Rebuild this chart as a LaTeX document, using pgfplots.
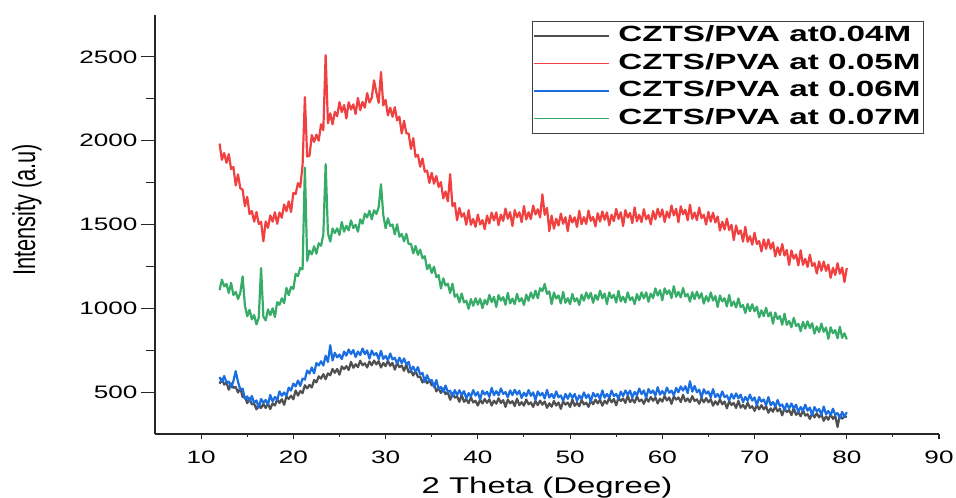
\documentclass[border=0pt]{standalone}
\usepackage{fontspec}
\setmainfont{Liberation Sans}
\newfontfamily\tickfont[FakeStretch=1.45]{Liberation Sans}
\newfontfamily\legfont[FakeStretch=1.51]{Liberation Sans}
\newfontfamily\ylabfont[FakeStretch=0.69]{Liberation Sans}
\usepackage{pgfplots}
\usepackage{pgfplotstable}
\pgfplotsset{compat=1.18}
\definecolor{cblack}{RGB}{80,80,80}
\definecolor{cred}{RGB}{240,64,64}
\definecolor{cblue}{RGB}{26,110,225}
\definecolor{cgreen}{RGB}{55,172,104}
\pgfplotstableread{
x a b c d
12.00 550 1983 590 1108
12.25 578 1886 560 1171
12.50 545 1927 596 1131
12.75 558 1868 557 1145
13.00 514 1920 563 1091
13.25 552 1831 528 1152
13.50 525 1843 565 1079
13.75 531 1733 625 1098
14.00 497 1799 561 1055
14.25 525 1716 515 1092
14.50 470 1707 520 1190
14.75 471 1609 460 1016
15.00 434 1665 474 952
15.25 463 1562 445 991
15.50 427 1581 477 934
15.75 430 1517 436 960
16.00 397 1574 450 904
16.25 430 1503 406 945
16.50 405 1516 459 1240
16.75 430 1400 436 950
17.00 405 1518 453 928
17.25 431 1480 426 994
17.50 399 1554 483 959
17.75 433 1517 444 1000
18.00 420 1573 471 948
18.25 458 1504 454 1037
18.50 435 1572 504 1021
18.75 458 1540 478 1060
19.00 424 1620 498 1031
19.25 474 1579 477 1122
19.50 459 1638 527 1079
19.75 479 1575 509 1128
20.00 457 1689 551 1115
20.25 510 1682 534 1206
20.50 479 1747 569 1192
20.75 506 1723 537 1242
21.00 494 1855 581 1232
21.25 541 2260 575 1840
21.50 522 1906 629 1283
21.75 543 1909 611 1344
22.00 527 2034 647 1322
22.25 572 1993 612 1370
22.50 558 2036 673 1326
22.75 594 2000 659 1388
23.00 580 2098 684 1373
23.25 607 2063 659 1440
23.50 577 2510 717 1860
23.75 612 2104 680 1449
24.00 600 2163 780 1398
24.25 638 2098 689 1476
24.50 615 2172 735 1449
24.75 638 2146 707 1477
25.00 604 2230 724 1438
25.25 653 2171 697 1515
25.50 637 2213 742 1457
25.75 655 2133 718 1492
26.00 632 2229 754 1465
26.25 680 2186 727 1525
26.50 645 2217 751 1479
26.75 666 2159 709 1498
27.00 649 2255 742 1457
27.25 687 2182 721 1530
27.50 660 2231 760 1505
27.75 672 2197 727 1565
28.00 647 2284 748 1542
28.25 683 2228 700 1582
28.50 660 2256 748 1531
28.75 688 2360 721 1585
29.00 665 2288 733 1563
29.25 685 2226 697 1603
29.50 647 2410 746 1740
29.75 674 2211 698 1556
30.00 655 2243 716 1478
30.25 687 2151 690 1537
30.50 657 2197 730 1491
30.75 674 2143 695 1500
31.00 634 2200 705 1441
31.25 674 2121 669 1501
31.50 649 2143 706 1427
31.75 659 2043 673 1444
32.00 627 2119 701 1400
32.25 664 2044 665 1444
32.50 617 2042 680 1383
32.75 627 1951 628 1385
33.00 599 2015 652 1328
33.25 627 1904 620 1372
33.50 590 1916 649 1319
33.75 592 1845 605 1350
34.00 557 1894 615 1298
34.25 584 1815 560 1311
34.50 552 1821 601 1233
34.75 572 1748 567 1261
35.00 540 1808 572 1211
35.25 551 1743 530 1249
35.50 504 1789 572 1186
35.75 523 1724 519 1198
36.00 495 1753 531 1118
36.25 522 1656 502 1179
36.50 487 1697 539 1136
36.75 499 1638 501 1147
37.00 454 1800 508 1091
37.25 493 1609 474 1147
37.50 467 1628 512 1069
37.75 475 1525 482 1083
38.00 442 1599 511 1035
38.25 484 1546 483 1088
38.50 442 1567 506 1035
38.75 457 1499 462 1045
39.00 434 1585 494 997
39.25 469 1498 473 1055
39.50 438 1533 512 1015
39.75 448 1486 479 1060
40.00 420 1559 500 1022
40.25 455 1500 456 1057
40.50 432 1526 508 1001
40.75 459 1472 486 1050
41.00 436 1553 502 1023
41.25 457 1506 471 1080
41.50 420 1571 525 1037
41.75 449 1524 482 1068
42.00 431 1572 506 1008
42.25 463 1496 481 1079
42.50 435 1559 522 1046
42.75 452 1521 489 1067
43.00 412 1595 500 1021
43.25 455 1534 469 1092
43.50 433 1574 510 1029
43.75 446 1491 482 1058
44.00 417 1586 514 1025
44.25 461 1543 486 1086
44.50 422 1573 508 1041
44.75 440 1514 465 1060
45.00 419 1610 497 1020
45.25 456 1530 475 1081
45.50 427 1573 512 1045
45.75 438 1532 478 1094
46.00 412 1613 498 1059
46.25 447 1560 453 1105
46.50 422 1591 504 1060
46.75 449 1542 480 1120
47.00 425 1680 495 1103
47.25 444 1558 462 1145
47.50 406 1599 513 1086
47.75 433 1460 468 1101
48.00 413 1553 489 1025
48.25 447 1475 463 1094
48.50 420 1535 504 1058
48.75 438 1494 469 1077
49.00 400 1565 480 1029
49.25 445 1504 448 1098
49.50 425 1543 489 1033
49.75 438 1460 460 1060
50.00 411 1554 492 1025
50.25 456 1512 465 1086
50.50 418 1543 489 1041
50.75 436 1485 447 1060
51.00 416 1582 480 1020
51.25 454 1502 459 1081
51.50 426 1544 498 1045
51.75 437 1503 465 1094
52.00 412 1583 486 1059
52.25 449 1522 443 1092
52.50 427 1545 495 1033
52.75 455 1489 473 1080
53.00 433 1567 489 1050
53.25 455 1517 458 1105
53.50 419 1578 510 1059
53.75 448 1528 467 1088
54.00 431 1572 489 1025
54.25 466 1496 466 1095
54.50 439 1558 509 1061
54.75 459 1520 476 1081
55.00 421 1593 489 1034
55.25 467 1533 460 1104
55.50 447 1573 503 1041
55.75 462 1491 476 1069
56.00 435 1586 510 1035
56.25 479 1541 484 1095
56.50 440 1569 509 1049
56.75 458 1508 467 1066
57.00 437 1602 501 1025
57.25 474 1519 481 1085
57.50 445 1558 521 1048
57.75 456 1514 488 1095
58.00 430 1591 510 1059
58.25 466 1531 466 1095
58.50 443 1556 518 1039
58.75 471 1501 494 1088
59.00 448 1580 510 1061
59.25 469 1531 478 1119
59.50 432 1594 529 1076
59.75 461 1545 485 1108
60.00 443 1590 506 1048
60.25 477 1515 484 1119
60.50 450 1577 527 1086
60.75 468 1540 496 1107
61.00 430 1613 509 1061
61.25 475 1554 481 1132
61.50 455 1594 525 1069
61.75 468 1513 499 1098
62.00 441 1608 534 1065
62.25 484 1561 509 1121
62.50 445 1588 535 1071
62.75 462 1525 494 1085
63.00 440 1618 565 1040
63.25 476 1534 503 1096
63.50 447 1571 537 1055
63.75 457 1526 499 1099
64.00 430 1601 515 1059
64.25 464 1538 468 1090
64.50 439 1558 517 1028
64.75 464 1500 491 1073
65.00 439 1575 504 1041
65.25 458 1517 469 1094
65.50 419 1570 518 1046
65.75 445 1512 470 1073
66.00 425 1548 489 1008
66.25 457 1464 464 1077
66.50 427 1517 504 1041
66.75 444 1470 470 1060
67.00 403 1535 480 1011
67.25 446 1467 449 1080
67.50 423 1498 489 1014
67.75 435 1407 461 1041
68.00 405 1494 492 1005
68.25 448 1443 463 1059
68.50 407 1465 485 1007
68.75 424 1398 440 1019
69.00 401 1486 471 972
69.25 437 1397 448 1026
69.50 406 1430 485 983
69.75 416 1380 449 1024
70.00 388 1451 468 982
70.25 422 1384 421 1010
70.50 397 1401 470 946
70.75 422 1339 443 988
71.00 397 1411 456 953
71.25 416 1355 421 1003
71.50 377 1411 470 952
71.75 403 1355 422 976
72.00 383 1393 441 908
72.25 415 1309 414 974
72.50 385 1364 453 936
72.75 402 1318 417 953
73.00 361 1383 426 902
73.25 404 1315 393 968
73.50 381 1348 432 901
73.75 393 1258 402 925
74.00 363 1345 432 887
74.25 405 1296 403 943
74.50 364 1321 425 894
74.75 379 1256 380 908
75.00 356 1346 411 863
75.25 391 1259 388 919
75.50 360 1295 425 879
75.75 368 1247 389 922
76.00 340 1320 408 882
76.25 374 1253 362 911
76.50 349 1270 411 849
76.75 374 1208 386 892
77.00 349 1280 399 858
77.25 368 1224 365 909
77.50 329 1279 414 860
77.75 355 1223 368 885
78.00 335 1261 387 818
78.25 368 1182 361 887
78.50 340 1241 401 851
78.75 358 1199 365 870
79.00 292 1269 375 821
79.25 363 1206 343 890
79.50 342 1243 382 824
79.75 355 1157 353 851
80.00 350 1240 380 815
}\datatable

\begin{document}
\begin{tikzpicture}
\useasboundingbox (0,0) rectangle (956bp,498bp);
\begin{axis}[
  at={(155bp,64bp)}, anchor=south west,
  scale only axis, width=784bp, height=419bp,
  xmin=5, xmax=90, ymin=250, ymax=2750,
  axis lines*=left,
  axis line style={-, line width=1.3bp, black!85},
  xtick={10,20,...,90}, ytick={500,1000,...,2500},
  minor x tick num=1, minor y tick num=1,
  tick align=outside,
  major tick length=14bp, minor tick length=9bp,
  xtick style={/pgfplots/major tick length=5bp},
  minor x tick style={/pgfplots/minor tick length=3bp},
  every tick/.style={line width=1.1bp, black!85},
  /pgf/number format/assume math mode=true,
  /pgf/number format/1000 sep={},
  scaled ticks=false,
  ticklabel style={font=\tickfont\fontsize{18bp}{20bp}\selectfont, text=black},
  xticklabel style={yshift=1bp},
  xlabel={2 Theta (Degree)},
  xlabel style={font=\tickfont\fontsize{22.7bp}{25bp}\selectfont, at={(axis description cs:0.5,-0.129)}, anchor=center},
  ylabel={Intensity (a.u)},
  ylabel style={font=\ylabfont\fontsize{31.6bp}{34bp}\selectfont, at={(axis description cs:-0.1633,0.535)}, anchor=center},
  legend cell align=left,
  legend style={at={(axis description cs:0.981,0.986)}, anchor=north east,
    draw=black!75, line width=1.2bp, inner xsep=1bp, inner ysep=1bp,
    font=\legfont\bfseries\fontsize{22bp}{24bp}\selectfont,
    nodes={text height=15bp, text depth=4bp, inner ysep=4.3bp, inner xsep=2bp}},
  legend image code/.code={\draw[#1, line width=1.6bp] (0bp,0.5bp) -- (75bp,0.5bp); \path (81bp,0bp);},
  every axis plot/.append style={line width=2.2bp, line join=round},
]
\addplot[draw=cblack, no markers] table[x=x, y=a] {\datatable};
\addlegendentry{CZTS/PVA at0.04M}
\addplot[draw=cred, no markers] table[x=x, y=b] {\datatable};
\addlegendentry{CZTS/PVA at 0.05M}
\addplot[draw=cblue, no markers] table[x=x, y=c] {\datatable};
\addlegendentry{CZTS/PVA at 0.06M}
\addplot[draw=cgreen, no markers] table[x=x, y=d] {\datatable};
\addlegendentry{CZTS/PVA at 0.07M}
\end{axis}
\end{tikzpicture}
\end{document}
